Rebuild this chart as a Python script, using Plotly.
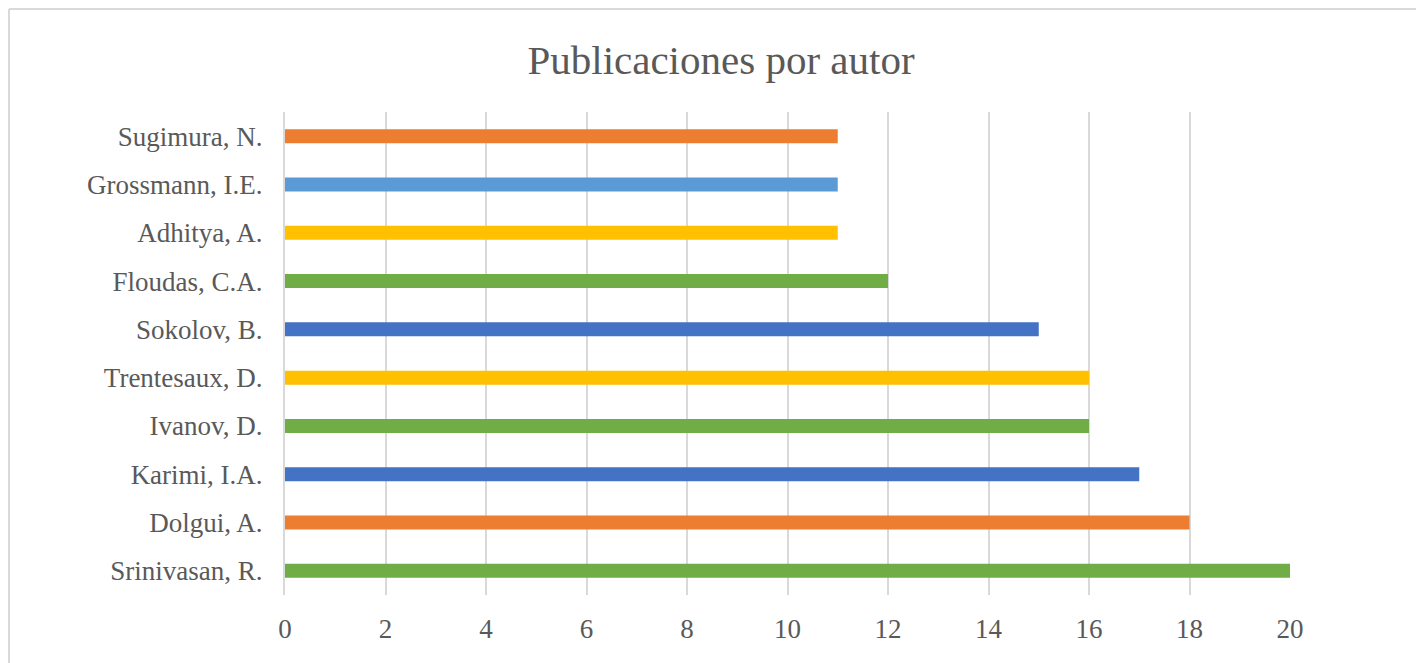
import plotly.graph_objects as go

authors = ["Srinivasan, R.", "Dolgui, A.", "Karimi, I.A.", "Ivanov, D.", "Trentesaux, D.",
           "Sokolov, B.", "Floudas, C.A.", "Adhitya, A.", "Grossmann, I.E.", "Sugimura, N."]
publications = [20, 18, 17, 16, 16, 15, 12, 11, 11, 11]
colors = ["#70AD47", "#ED7D31", "#4472C4", "#70AD47", "#FFC000",
          "#4472C4", "#70AD47", "#FFC000", "#5B9BD5", "#ED7D31"]
x_ticks = [0, 2, 4, 6, 8, 10, 12, 14, 16, 18, 20]

# page body has an 8px default margin, so the figure is shrunk/shifted accordingly
OFF = 8
W, H = 1424 - OFF, 663 - OFF
L, R, T, B = 285 - OFF, 1290 - OFF, 112 - OFF, 595 - OFF

def px_x(p):
    return (p - L) / (R - L)

def px_y(p):
    return (B - p) / (B - T)

fig = go.Figure(go.Bar(
    y=authors, x=publications, orientation="h",
    marker=dict(color=colors, line=dict(width=0)),
    width=0.29,
))

font_fam = "Liberation Serif, Times New Roman, serif"
fig.update_layout(
    width=W, height=H,
    margin=dict(l=L, r=W - R, t=T, b=H - B),
    paper_bgcolor="white", plot_bgcolor="white",
    showlegend=False,
    title=dict(text="Publicaciones por autor", x=(721 - OFF - L) / (R - L), xref="paper",
               y=1 - (60 - OFF) / H, yref="container", xanchor="center", yanchor="middle",
               font=dict(family=font_fam, size=41, color="#595959")),
    font=dict(family=font_fam, color="#595959"),
)

fig.update_xaxes(range=[0, 20], tickvals=x_ticks, showgrid=True, gridcolor="#d9d9d9",
                 gridwidth=2, zeroline=False, showline=False, ticks="",
                 tickfont=dict(family=font_fam, size=27, color="#595959"),
                 ticklabelstandoff=15, fixedrange=True)
fig.update_yaxes(type="category", categoryorder="array", categoryarray=authors,
                 showgrid=False, showline=True, linecolor="#d9d9d9", linewidth=2,
                 ticks="", tickfont=dict(family=font_fam, size=27, color="#595959"),
                 ticklabelstandoff=15, fixedrange=True)

# outer chart border (only the top and left edges are visible in the window)
fig.add_shape(type="line", xref="paper", yref="paper",
              x0=px_x(1), x1=px_x(W + 5), y0=px_y(1), y1=px_y(1),
              line=dict(color="#d9d9d9", width=2))
fig.add_shape(type="line", xref="paper", yref="paper",
              x0=px_x(1), x1=px_x(1), y0=px_y(1), y1=px_y(H + 5),
              line=dict(color="#d9d9d9", width=2))

fig.write_html("out.html")
